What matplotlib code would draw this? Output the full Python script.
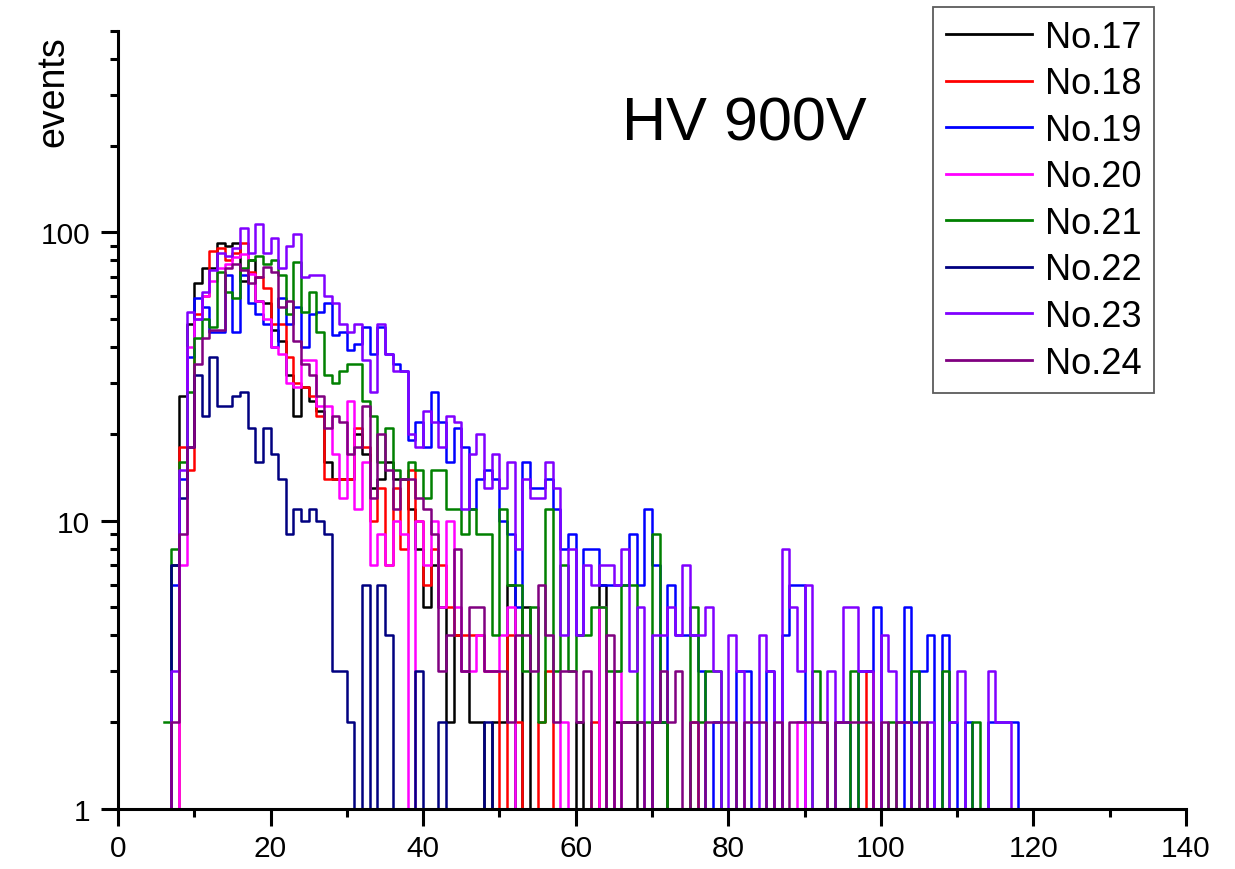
import numpy as np
import matplotlib
matplotlib.use('Agg')
import matplotlib.pyplot as plt
import matplotlib.ticker as ticker

plt.rcParams['font.family'] = ['Liberation Sans', 'DejaVu Sans']

#%% histogram counts, bins of width 1, first bin starts at 6
first_bin = 6
labels = ["No.17", "No.18", "No.19", "No.20", "No.21", "No.22", "No.23", "No.24"]
colors = ["#000000", "#FF0000", "#0000FF", "#FF00FF", "#008000", "#000080", "#8000FF", "#800080"]

no17 = [0, 7, 27, 48,
        67, 75, 75, 92, 90, 92, 68, 80, 58, 57,
        46, 42, 32, 23, 29, 26, 24, 16, 14, 14,
        14, 20, 17, 13, 14, 16, 14, 14, 11, 8,
        5, 7, 5, 2, 4, 3, 2, 2, 0, 2,
        2, 6, 0, 5, 0, 0, 0, 0, 0, 0,
        2, 0, 0, 6, 0, 2, 2, 2, 0, 0,
        2, 2, 0, 0, 0, 0, 0, 0, 0, 0,
        0, 0, 0, 0, 0, 0, 0, 0, 0, 0,
        0, 0, 0, 0, 0, 0, 0, 0, 0, 0,
        0, 0, 0, 0, 0, 0, 0, 0, 0, 0,
        0, 0, 0, 0, 0, 0, 0, 0, 0, 0]
no18 = [0, 0, 18, 15,
        52, 60, 86, 88, 80, 85, 92, 73, 70, 64,
        48, 48, 37, 30, 29, 27, 23, 14, 14, 14,
        14, 21, 18, 10, 13, 7, 13, 8, 15, 10,
        6, 8, 7, 5, 4, 4, 4, 4, 3, 3,
        0, 4, 2, 0, 0, 2, 3, 0, 0, 0,
        0, 0, 2, 0, 0, 0, 0, 0, 0, 0,
        0, 0, 0, 0, 0, 2, 0, 0, 0, 0,
        0, 0, 0, 0, 0, 0, 0, 0, 0, 0,
        0, 0, 0, 0, 0, 0, 0, 0, 3, 0,
        0, 0, 0, 0, 0, 0, 0, 0, 0, 0,
        0, 0, 0, 0, 0, 0, 0, 0, 0, 0]
no19 = [0, 6, 14, 37,
        59, 55, 45, 45, 71, 45, 71, 57, 52, 48,
        40, 59, 48, 55, 40, 52, 53, 57, 44, 45,
        39, 41, 47, 38, 47, 38, 35, 33, 19, 22,
        18, 28, 22, 16, 21, 18, 11, 14, 15, 14,
        10, 9, 5, 16, 13, 13, 14, 11, 8, 9,
        4, 8, 8, 6, 6, 6, 6, 9, 6, 11,
        7, 2, 6, 4, 4, 4, 3, 0, 2, 0,
        0, 3, 3, 0, 0, 3, 0, 4, 6, 6,
        0, 0, 0, 0, 2, 2, 0, 3, 3, 5,
        0, 0, 0, 5, 2, 3, 4, 0, 4, 2,
        0, 2, 0, 0, 2, 2, 2, 2, 0, 0]
no20 = [0, 0, 7, 40,
        50, 60, 68, 75, 78, 82, 84, 72, 58, 50,
        40, 38, 30, 29, 36, 36, 25, 25, 17, 12,
        26, 11, 16, 7, 9, 7, 10, 9, 0, 10,
        7, 10, 5, 10, 5, 3, 3, 4, 3, 3,
        4, 5, 0, 0, 0, 0, 0, 0, 2, 0,
        0, 0, 0, 5, 0, 3, 0, 0, 0, 0,
        0, 0, 0, 0, 0, 0, 0, 0, 0, 0,
        0, 0, 0, 0, 0, 0, 0, 0, 0, 2,
        0, 0, 0, 0, 0, 0, 0, 0, 0, 0,
        0, 0, 0, 0, 0, 0, 0, 0, 0, 0,
        0, 0, 0, 0, 0, 0, 0, 0, 0, 0]
no21 = [2, 8, 16, 28,
        43, 50, 47, 73, 62, 59, 75, 80, 83, 78,
        80, 71, 52, 79, 53, 62, 45, 32, 30, 33,
        35, 35, 26, 23, 16, 21, 15, 14, 16, 15,
        12, 15, 15, 11, 11, 9, 11, 9, 9, 4,
        11, 6, 6, 3, 5, 2, 11, 3, 7, 3,
        4, 4, 5, 5, 3, 3, 6, 6, 2, 2,
        9, 2, 0, 0, 0, 5, 2, 3, 3, 0,
        0, 0, 0, 0, 0, 0, 0, 0, 0, 0,
        0, 3, 2, 0, 0, 0, 3, 0, 0, 0,
        0, 2, 0, 0, 3, 0, 0, 0, 3, 0,
        0, 0, 2, 0, 0, 0, 0, 0, 0, 0]
no22 = [0, 7, 12, 18,
        32, 23, 37, 25, 25, 27, 28, 21, 16, 21,
        17, 14, 9, 11, 10, 11, 10, 9, 3, 3,
        2, 0, 6, 0, 6, 4, 0, 0, 0, 3,
        0, 0, 2, 0, 0, 0, 0, 0, 2, 0,
        0, 0, 0, 0, 0, 0, 0, 0, 0, 0,
        0, 0, 0, 0, 0, 0, 0, 0, 0, 0,
        0, 0, 0, 0, 0, 0, 0, 0, 0, 0,
        0, 0, 0, 0, 0, 0, 0, 0, 0, 0,
        0, 0, 0, 0, 0, 0, 0, 0, 0, 0,
        0, 0, 0, 0, 0, 0, 0, 0, 0, 0,
        0, 0, 0, 0, 0, 0, 0, 0, 0, 0]
no23 = [0, 3, 15, 53,
        50, 62, 74, 85, 83, 88, 104, 85, 107, 85,
        96, 75, 90, 99, 70, 71, 71, 60, 57, 48,
        45, 48, 36, 28, 48, 38, 33, 33, 20, 18,
        24, 22, 18, 23, 22, 11, 17, 20, 13, 17,
        13, 16, 8, 14, 12, 12, 16, 13, 4, 8,
        4, 7, 6, 7, 7, 6, 8, 3, 5, 0,
        4, 4, 5, 4, 7, 4, 4, 5, 3, 0,
        4, 3, 0, 0, 4, 3, 0, 8, 5, 3,
        6, 0, 0, 3, 2, 5, 5, 3, 3, 0,
        4, 3, 2, 2, 0, 0, 2, 0, 0, 2,
        3, 0, 0, 0, 3, 2, 2, 0, 0, 0]
no24 = [0, 2, 9, 18,
        35, 43, 46, 46, 75, 78, 74, 67, 70, 76,
        73, 55, 58, 42, 35, 32, 27, 21, 23, 22,
        17, 18, 25, 12, 20, 15, 11, 14, 14, 12,
        11, 9, 3, 4, 8, 3, 5, 5, 3, 3,
        3, 2, 4, 4, 3, 6, 4, 2, 3, 3,
        2, 3, 0, 0, 4, 0, 2, 2, 2, 0,
        2, 3, 2, 3, 0, 2, 0, 2, 2, 2,
        2, 0, 2, 2, 2, 0, 2, 0, 2, 2,
        2, 2, 2, 0, 2, 2, 2, 2, 2, 0,
        2, 0, 2, 2, 0, 2, 0, 0, 0, 0,
        0, 0, 0, 0, 0, 0, 0, 0, 0, 0]
series = [no17, no18, no19, no20, no21, no22, no23, no24]

#%% plot
fig = plt.figure(figsize=(12.35, 8.7), dpi=100)
ax = fig.add_axes([0.0955, 0.069, 0.8648, 0.8943])

for counts, label, color in zip(series, labels, colors):
    counts = np.array(counts, dtype=float)
    edges = first_bin + np.arange(len(counts) + 1)
    ax.step(edges, np.append(counts, 0), where='post', color=color, lw=1.8, label=label)

ax.set_yscale('log', nonpositive='clip')
ax.set_xlim(0, 140)
ax.set_ylim(1, 500)

ax.xaxis.set_major_locator(ticker.MultipleLocator(20))
ax.xaxis.set_minor_locator(ticker.MultipleLocator(10))
ax.yaxis.set_major_locator(ticker.FixedLocator([1, 10, 100]))
ax.yaxis.set_major_formatter(ticker.FixedFormatter(["1", "10", "100"]))
ax.yaxis.set_minor_locator(ticker.LogLocator(subs=np.arange(2, 10)))
ax.yaxis.set_minor_formatter(ticker.NullFormatter())

for side in ['top', 'right']:
    ax.spines[side].set_visible(False)
for side in ['left', 'bottom']:
    ax.spines[side].set_linewidth(2.2)

ax.tick_params(which='major', direction='out', length=12, width=2.2, labelsize=21.5)
ax.tick_params(which='minor', direction='out', length=6, width=2.2)
ax.tick_params(axis='y', which='major', pad=8)
ax.tick_params(axis='x', which='major', pad=6)

fig.text(0.043, 0.895, "events", rotation=90, fontsize=27, ha='center', va='center')
fig.text(0.5036, 0.839, "HV 900V", fontsize=44, ha='left', va='baseline')

leg = ax.legend(loc='upper left', bbox_to_anchor=(933 / 1235, 1 - 8 / 870),
                bbox_transform=fig.transFigure, fontsize=26, frameon=True,
                fancybox=False, borderaxespad=0, borderpad=0.35, labelspacing=0.32,
                handlelength=2.4, handletextpad=0.35)
leg.get_frame().set_edgecolor('#333333')
leg.get_frame().set_linewidth(1.3)
for line in leg.get_lines():
    line.set_linewidth(2.0)

fig.savefig("out.png", dpi=100)
